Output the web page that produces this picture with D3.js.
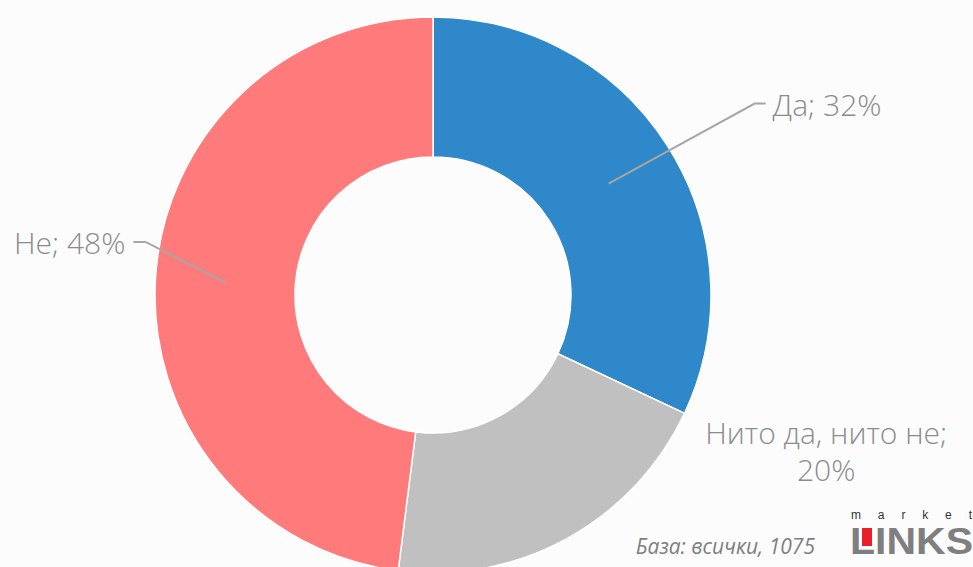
<!DOCTYPE html>
<html>
<head>
<meta charset="utf-8">
<script src="https://cdn.jsdelivr.net/npm/d3@7"></script>
<style>
  body { margin: 0; background: #fcfcfc; }
  svg { display: block; font-family: "Open Sans", sans-serif; }
</style>
</head>
<body>
<svg id="chart"></svg>
<script>
// slices in drawing order (clockwise from 12 o'clock)
const categories = ['Да', 'Нито да, нито не', 'Не'];
const shares = [32, 20, 48];
const colors = ['#2e88c9', '#c0c0c0', '#ff7b7b'];
const labelLines = [['Да; 32%'], ['Нито да, нито не;', '20%'], ['Не; 48%']];
const baseNote = 'База: всички, 1075';

const width = 973, height = 567;
const cx = 433, cy = 295;
const outerR = 278, innerR = 138;

const svg = d3.select('#chart')
  .attr('width', width)
  .attr('height', height);

svg.append('rect')
  .attr('width', width)
  .attr('height', height)
  .attr('fill', '#fcfcfc');

const pie = d3.pie().sort(null).value(d => d);
const arcs = pie(shares);

const arc = d3.arc().innerRadius(innerR).outerRadius(outerR);
const midArc = d3.arc().innerRadius(208).outerRadius(208);

const g = svg.append('g').attr('transform', `translate(${cx},${cy})`);

g.selectAll('path')
  .data(arcs)
  .enter()
  .append('path')
  .attr('d', arc)
  .attr('fill', (d, i) => colors[i])
  .attr('stroke', '#ffffff')
  .attr('stroke-width', 1.5);

// leader lines: centroid -> elbow -> short horizontal run
const elbowOffset = [[146, -80], null, [-80, -40]];
const runLen = [11, 0, -12];

arcs.forEach((d, i) => {
  if (!elbowOffset[i]) return;
  const [x0, y0] = midArc.centroid(d);
  const x1 = x0 + elbowOffset[i][0], y1 = y0 + elbowOffset[i][1];
  const x2 = x1 + runLen[i];
  g.append('polyline')
    .attr('points', `${x0},${y0} ${x1},${y1} ${x2},${y1}`)
    .attr('fill', 'none')
    .attr('stroke', '#a6a6a6')
    .attr('stroke-width', 2);
  g.append('text')
    .attr('x', x2 + (runLen[i] > 0 ? 7 : -8))
    .attr('y', y1 + 12)
    .attr('text-anchor', runLen[i] > 0 ? 'start' : 'end')
    .attr('font-size', 30)
    .attr('font-weight', 300)
    .attr('fill', '#8c8c8c')
    .text(labelLines[i][0]);
});

// label without leader line for the grey slice
{
  const [x0, y0] = midArc.centroid(arcs[1]);
  const t = g.append('text')
    .attr('text-anchor', 'middle')
    .attr('font-size', 30)
    .attr('font-weight', 300)
    .attr('fill', '#8c8c8c');
  labelLines[1].forEach((line, k) => {
    t.append('tspan')
      .attr('x', x0 + 293)
      .attr('y', y0 - 33 + k * 37)
      .text(line);
  });
}

// base note
svg.append('text')
  .attr('x', 815)
  .attr('y', 554)
  .attr('text-anchor', 'end')
  .attr('font-size', 21)
  .attr('font-style', 'italic')
  .attr('fill', '#7f7f7f')
  .text(baseNote);

// logo
const logo = svg.append('g').attr('transform', 'translate(850,0)');
logo.append('text')
  .attr('x', 1)
  .attr('y', 519)
  .attr('font-family', 'Liberation Sans, Arial, sans-serif')
  .attr('font-size', 12)
  .attr('fill', '#333333')
  .attr('textLength', 121)
  .attr('lengthAdjust', 'spacing')
  .text('market');
logo.append('text')
  .attr('x', 0)
  .attr('y', 554)
  .attr('font-family', 'Liberation Sans, Arial, sans-serif')
  .attr('font-size', 36)
  .attr('font-weight', 700)
  .attr('fill', '#7f7f7f')
  .attr('textLength', 123)
  .attr('lengthAdjust', 'spacingAndGlyphs')
  .text('LINKS');
logo.append('rect')
  .attr('x', 12)
  .attr('y', 528)
  .attr('width', 10)
  .attr('height', 18)
  .attr('fill', '#e8202a');
</script>
</body>
</html>
